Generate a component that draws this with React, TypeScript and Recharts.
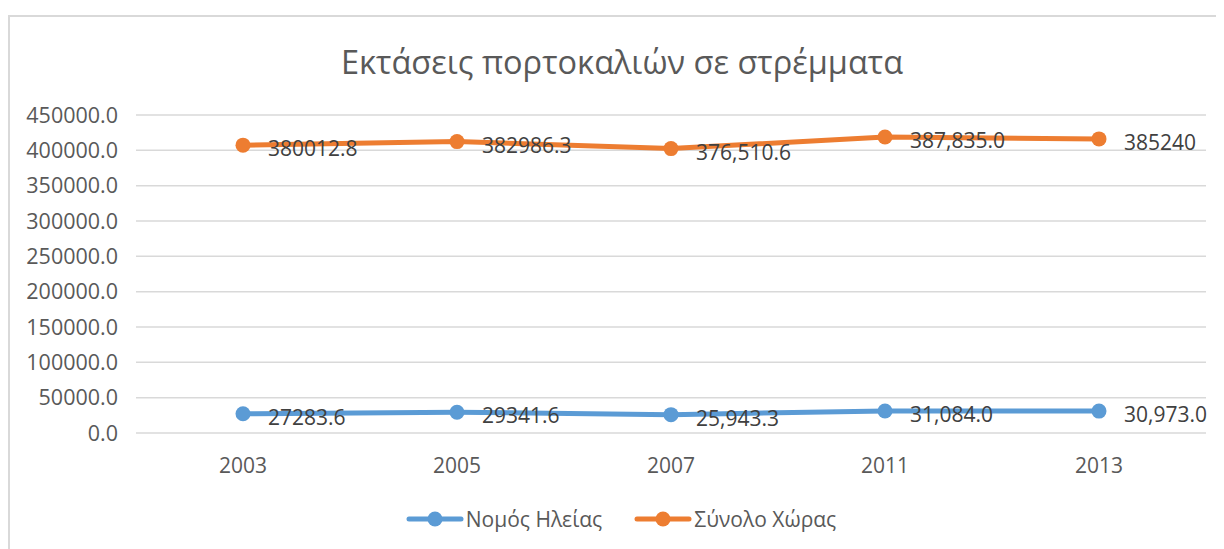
import { Area, CartesianGrid, ComposedChart, Legend, XAxis, YAxis } from "recharts";

const years = ["2003", "2005", "2007", "2011", "2013"];
const ileiaValues = [27283.6, 29341.6, 25943.3, 31084.0, 30973.0];
const countryValues = [380012.8, 382986.3, 376510.6, 387835.0, 385240];
const ileiaLabels = ["27283.6", "29341.6", "25,943.3", "31,084.0", "30,973.0"];
const countryLabels = ["380012.8", "382986.3", "376,510.6", "387,835.0", "385240"];
const yTicks = [0, 50000, 100000, 150000, 200000, 250000, 300000, 350000, 400000, 450000];

const BLUE = "#5B9BD5";
const ORANGE = "#ED7D31";
const FONT = "'Open Sans', sans-serif";

// stacked line chart, labels show each series' own value
const data = years.map((year, i) => ({
  year,
  ileia: ileiaValues[i],
  country: countryValues[i],
}));

function makeLabel(texts: string[]) {
  return (props: any) => {
    const { x, y, index } = props;
    if (x == null || y == null) return null;
    return (
      <text
        key={`l-${index}`}
        x={x + 25}
        y={y + 3}
        fill="#404040"
        fontSize={21}
        fontFamily={FONT}
        dominantBaseline="central"
      >
        {texts[index]}
      </text>
    );
  };
}

function makeDot(color: string) {
  return (props: any) => {
    const { cx, cy, index } = props;
    if (cx == null || cy == null) return <g key={`d-${index}`} />;
    return <circle key={`d-${index}`} cx={cx} cy={cy} r={7.5} fill={color} />;
  };
}

function LegendContent() {
  const items = [
    { name: "Νομός Ηλείας", color: BLUE },
    { name: "Σύνολο Χώρας", color: ORANGE },
  ];
  return (
    <div
      style={{
        display: "flex",
        justifyContent: "center",
        gap: 32,
        fontFamily: FONT,
        paddingLeft: 10,
        marginTop: -4,
      }}
    >
      {items.map((it) => (
        <div key={it.name} style={{ display: "flex", alignItems: "center" }}>
          <svg width={58} height={16}>
            <line x1={3} y1={8} x2={55} y2={8} stroke={it.color} strokeWidth={5} strokeLinecap="round" />
            <circle cx={29} cy={8} r={7.5} fill={it.color} />
          </svg>
          <span style={{ fontSize: 21, color: "#595959", marginLeft: 2 }}>{it.name}</span>
        </div>
      ))}
    </div>
  );
}

export default function App() {
  return (
    <div style={{ position: "relative", width: 1216, height: 541, overflow: "hidden", background: "#fff" }}>
      <div
        style={{
          position: "absolute",
          left: 0,
          top: 7,
          width: 1240,
          height: 600,
          border: "2px solid #d9d9d9",
          boxSizing: "border-box",
        }}
      />
      <div
        style={{
          position: "absolute",
          left: 0,
          top: 31,
          width: 1228,
          textAlign: "center",
          fontFamily: FONT,
          fontSize: 32.5,
          color: "#595959",
        }}
      >
        Εκτάσεις πορτοκαλιών σε στρέμματα
      </div>
      <div style={{ position: "absolute", left: 0, top: 0 }}>
        <ComposedChart
          width={1216}
          height={541}
          data={data}
          margin={{ top: 107, right: 18, left: 18, bottom: 4 }}
        >
          <CartesianGrid stroke="#d9d9d9" strokeWidth={1.5} vertical={false} />
          <XAxis
            dataKey="year"
            axisLine={false}
            tickLine={false}
            tickMargin={19}
            padding={{ left: 107, right: 107 }}
            height={76}
            tick={{ fontSize: 21, fill: "#595959", fontFamily: FONT }}
          />
          <YAxis
            domain={[0, 450000]}
            ticks={yTicks}
            axisLine={false}
            tickLine={false}
            tickMargin={12}
            width={110}
            tickFormatter={(v) => Number(v).toFixed(1)}
            tick={{ fontSize: 21.5, fill: "#595959", fontFamily: FONT }}
          />
          <Legend verticalAlign="bottom" height={36} content={<LegendContent />} />
          <Area
            type="linear"
            dataKey="ileia"
            stackId="s"
            stroke={BLUE}
            strokeWidth={5}
            fill="none"
            fillOpacity={0}
            dot={makeDot(BLUE)}
            activeDot={false}
            label={makeLabel(ileiaLabels)}
            isAnimationActive={false}
          />
          <Area
            type="linear"
            dataKey="country"
            stackId="s"
            stroke={ORANGE}
            strokeWidth={5}
            fill="none"
            fillOpacity={0}
            dot={makeDot(ORANGE)}
            activeDot={false}
            label={makeLabel(countryLabels)}
            isAnimationActive={false}
          />
        </ComposedChart>
      </div>
    </div>
  );
}
